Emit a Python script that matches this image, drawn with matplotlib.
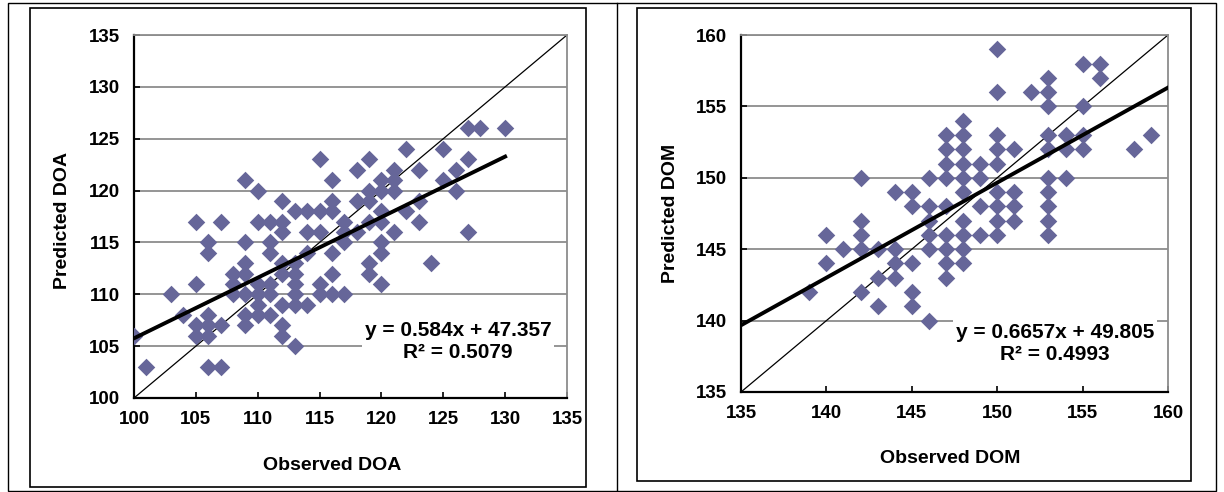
import numpy as np
import matplotlib.pyplot as plt
from matplotlib.patches import Rectangle

plt.rcParams['font.family'] = ['Liberation Sans', 'DejaVu Sans']
plt.rcParams['font.weight'] = 'bold'

# DOA panel: observed vs predicted
doa_obs = [100, 101, 103, 104,
           105, 105, 105, 105,
           106, 106, 106, 106, 106, 106,
           107, 107, 107,
           108, 108, 108,
           109, 109, 109, 109, 109, 109, 109,
           110, 110, 110, 110, 110, 110,
           111, 111, 111, 111, 111, 111,
           112, 112, 112, 112, 112, 112, 112, 112,
           113, 113, 113, 113, 113, 113, 113,
           114, 114, 114, 114,
           115, 115, 115, 115, 115,
           116, 116, 116, 116, 116, 116,
           117, 117, 117, 117,
           118, 118, 118,
           119, 119, 119, 119, 119, 119,
           120, 120, 120, 120, 120, 120, 120,
           121, 121, 121, 121,
           122, 122,
           123, 123, 123,
           124,
           125, 125,
           126, 126,
           127, 127, 127,
           128, 130]
doa_pred = [106, 103, 110, 108,
            117, 111, 107, 106,
            115, 114, 108, 107, 106, 103,
            117, 107, 103,
            112, 111, 110,
            121, 115, 113, 112, 110, 108, 107,
            120, 117, 111, 110, 109, 108,
            117, 115, 114, 111, 110, 108,
            119, 117, 116, 113, 112, 109, 107, 106,
            118, 113, 112, 111, 110, 109, 105,
            118, 116, 114, 109,
            123, 118, 116, 111, 110,
            121, 119, 118, 114, 112, 110,
            117, 116, 115, 110,
            122, 119, 116,
            123, 120, 119, 117, 113, 112,
            121, 120, 118, 117, 115, 114, 111,
            122, 121, 120, 116,
            124, 118,
            122, 119, 117,
            113,
            124, 121,
            122, 120,
            126, 123, 116,
            126, 126]

# DOM panel: observed vs predicted
dom_obs = [139, 140, 140, 141,
           142, 142, 142, 142, 142,
           143, 143, 143,
           144, 144, 144, 144,
           145, 145, 145, 145, 145,
           146, 146, 146, 146, 146, 146,
           147, 147, 147, 147, 147, 147, 147, 147, 147,
           148, 148, 148, 148, 148, 148, 148, 148, 148, 148,
           149, 149, 149, 149,
           150, 150, 150, 150, 150, 150, 150, 150, 150,
           151, 151, 151, 151,
           152,
           153, 153, 153, 153, 153, 153, 153, 153, 153, 153,
           154, 154, 154,
           155, 155, 155, 155,
           156, 156, 158, 159]
dom_pred = [142, 146, 144, 145,
            150, 147, 146, 145, 142,
            145, 143, 141,
            149, 145, 144, 143,
            149, 148, 144, 142, 141,
            150, 148, 147, 146, 145, 140,
            153, 152, 151, 150, 148, 146, 145, 144, 143,
            154, 153, 152, 151, 150, 149, 147, 146, 145, 144,
            151, 150, 148, 146,
            159, 156, 153, 152, 151, 149, 148, 147, 146,
            152, 149, 148, 147,
            156,
            157, 156, 155, 153, 152, 150, 149, 148, 147, 146,
            153, 152, 150,
            158, 155, 153, 152,
            158, 157, 152, 153]

doa_fit = (0.584, 47.357, 0.5079)
dom_fit = (0.6657, 49.805, 0.4993)

fig = plt.figure(figsize=(12.24, 4.92), dpi=100)

# table / chart frames (figure pixels)
W, H = 1224.0, 492.0
def frame(x0, y0, x1, y1, lw=1.0):
    fig.patches.append(Rectangle((x0 / W, 1 - y1 / H), (x1 - x0) / W, (y1 - y0) / H,
                                 transform=fig.transFigure, fill=False,
                                 edgecolor='black', linewidth=lw))
frame(8, 3, 1216, 491, 1.0)
fig.add_artist(plt.Line2D([617 / W, 617 / W], [0, 1 - 3 / H], transform=fig.transFigure,
                          color='black', linewidth=1.0))
frame(30, 8, 586, 487, 1.2)
frame(637, 8, 1191, 481, 1.2)


def panel(rect, obs, pred, fit, lim, ticks, xlab, ylab, trend_x, eq_xy, labx, laby):
    ax = fig.add_axes(rect)
    ax.set_xlim(lim)
    ax.set_ylim(lim)
    ax.set_xticks(ticks)
    ax.set_yticks(ticks)
    ax.yaxis.grid(True, color='#8c8c8c', linewidth=1.3)
    ax.set_axisbelow(True)
    for s in ['left', 'bottom']:
        ax.spines[s].set_color('black')
        ax.spines[s].set_linewidth(1.6)
    for s in ['top', 'right']:
        ax.spines[s].set_color('#8c8c8c')
        ax.spines[s].set_linewidth(1.3)
    ax.tick_params(direction='in', length=4, width=1.2, labelsize=13.5)
    ax.tick_params(axis='x', pad=9)
    ax.tick_params(axis='y', pad=10)

    # 1:1 line
    ax.plot(lim, lim, color='black', linewidth=0.9, zorder=2)
    ax.scatter(obs, pred, marker='D', s=80, color='#666699', linewidths=0, zorder=3)
    slope, icpt, r2 = fit
    tx = np.array(trend_x)
    ax.plot(tx, slope * tx + icpt, color='black', linewidth=2.8, zorder=4)

    ax.text(eq_xy[0], eq_xy[1],
            f'y = {slope}x + {icpt}\nR\u00b2 = {r2}',
            ha='center', va='center', fontsize=15, fontweight='bold',
            linespacing=1.2, zorder=5,
            bbox=dict(facecolor='white', edgecolor='none', pad=2))

    ax.set_xlabel(xlab, fontsize=14, fontweight='bold')
    ax.set_ylabel(ylab, fontsize=14, fontweight='bold')
    ax.xaxis.label.set_va('center')
    ax.yaxis.label.set_va('center')
    ax.xaxis.set_label_coords(*labx)
    ax.yaxis.set_label_coords(*laby)
    return ax


panel([134 / W, 1 - 398 / H, 433 / W, 363 / H], doa_obs, doa_pred, doa_fit,
      (100, 135), np.arange(100, 136, 5), 'Observed DOA', 'Predicted DOA',
      (min(doa_obs), max(doa_obs)), (126.2, 105.4), (0.457, -0.185), (-0.166, 0.488))

panel([741 / W, 1 - 392 / H, 427 / W, 357 / H], dom_obs, dom_pred, dom_fit,
      (135, 160), np.arange(135, 161, 5), 'Observed DOM', 'Predicted DOM',
      (135, 160), (153.4, 138.4), (0.489, -0.185), (-0.166, 0.501))

fig.savefig('out.png', dpi=100)
